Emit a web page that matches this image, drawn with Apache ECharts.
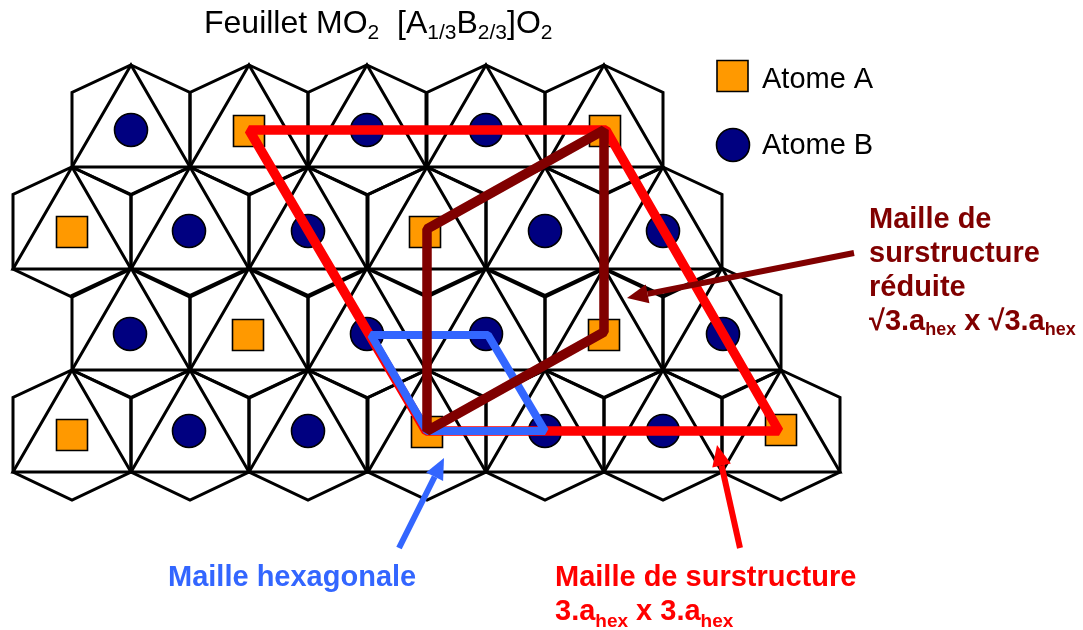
<!DOCTYPE html>
<html><head><meta charset="utf-8">
<style>html,body{margin:0;padding:0;background:#fff}#c{width:1083px;height:630px}</style>
<script src="https://cdn.jsdelivr.net/npm/echarts@6/dist/echarts.min.js"></script>
</head><body><div id="c"></div>
<script>
// Hexagon apex points: [x, y]
const row1 = [131,249,367,486,604].map(x=>[x,65]);
const row2 = [72,190,308,427,545,663].map(x=>[x,167]);
const row3 = [131,249,367,486,604,722].map(x=>[x,268]);
const row4 = [72,190,308,427,545,663,781].map(x=>[x,370]);
const hexagons = row1.concat(row2,row3,row4);
const atomsA = [[249,131],[605,131],[72,232],[425,232],[248,335],[604,335],[72,435],[427,432],[781,430]];
const atomsB = [[131,130],[367,130],[486,130],[189,231],[308,231],[545,231],[663,231],[130,334],[367,334],[486,334],[723,334],[189,431],[308,431],[545,431],[663,431]];
const legendA = [[732.5,76]];
const legendB = [[733,145]];
const cellRed = [[249,130],[606,130],[779,431],[426,431]];
const cellBlue = [[371,335],[488,335],[545,431],[427,431]];
const cellDark = [[427,431],[427,229],[604,130],[604,332]];
const arrowDark = [[854,253],[627,298]];
const arrowBlue = [[399,548],[444,458]];
const arrowRed = [[740,548],[717,445]];

const HW=59, S1=27.5, S2=102, S3=130;
function hexItem(p,api){
  const cx=api.value(0), t=api.value(1);
  const c=(x,y)=>api.coord([x,y]);
  const style={fill:null,stroke:'#000',lineWidth:3,lineJoin:'miter'};
  return {type:'group',children:[
    {type:'polygon',shape:{points:[c(cx,t),c(cx+HW,t+S1),c(cx+HW,t+S2),c(cx,t+S3),c(cx-HW,t+S2),c(cx-HW,t+S1)]},style},
    {type:'polygon',shape:{points:[c(cx,t),c(cx+HW,t+S2),c(cx-HW,t+S2)]},style}
  ]};
}
function cellSeries(points,color,width,z){
  return {type:'custom',coordinateSystem:'cartesian2d',silent:true,z,clip:false,
    data:[points.flat()],
    renderItem:(p,api)=>({type:'polygon',shape:{points:points.map(q=>api.coord(q))},
      style:{fill:null,stroke:color,lineWidth:width,lineJoin:'bevel'}})};
}
function arrowSeries(a,color,z){
  return {type:'custom',coordinateSystem:'cartesian2d',silent:true,z,clip:false,
    data:[a.flat()],
    renderItem:(p,api)=>{
      const s=api.coord(a[0]), e=api.coord(a[1]);
      const dx=e[0]-s[0],dy=e[1]-s[1],l=Math.hypot(dx,dy),ux=dx/l,uy=dy/l;
      const hl=21,hw=9.5;
      const b=[e[0]-ux*hl,e[1]-uy*hl];
      return {type:'group',children:[
        {type:'line',shape:{x1:s[0],y1:s[1],x2:b[0],y2:b[1]},style:{stroke:color,lineWidth:6}},
        {type:'polygon',shape:{points:[e,[b[0]-uy*hw,b[1]+ux*hw],[b[0]+uy*hw,b[1]-ux*hw]]},style:{fill:color}}
      ]};
    }};
}
function atom(data,symbol,size,color,z){
  return {type:'scatter',data,symbol,symbolSize:size,silent:true,z,
    itemStyle:{color,borderColor:'#000',borderWidth:1.6,opacity:1}};
}
const F='"Liberation Sans",Arial,sans-serif';
function txt(x,y,text,size,weight,color,lh,sub,subLh,firstLh){
  const n={fontFamily:F,fontSize:size,fontWeight:weight,fill:color,color,lineHeight:lh};
  const f={fontFamily:F,fontSize:size,fontWeight:weight,fill:color,color,lineHeight:firstLh||lh};
  const s={fontFamily:F,fontSize:sub,fontWeight:weight,fill:color,color,lineHeight:subLh||sub,verticalAlign:'bottom'};
  return {type:'text',left:x,top:y,z:100,silent:true,
    style:{text,font:weight+' '+size+'px '+F,fill:color,lineHeight:lh,rich:{n,s,f}}};
}
const chart=echarts.init(document.getElementById('c'),null,{renderer:'canvas'});
chart.setOption({
  animation:false,backgroundColor:'#fff',
  grid:{left:0,right:0,top:0,bottom:0},
  xAxis:{type:'value',min:0,max:1083,show:false},
  yAxis:{type:'value',min:0,max:630,inverse:true,show:false},
  graphic:[
    txt(204,4,'{n|Feuillet MO}{s|2}{n|  [A}{s|1/3}{n|B}{s|2/3}{n|]O}{s|2}',32,'normal','#000',40,21),
    txt(762,63,'Atome A',29,'normal','#000',33,19),
    txt(762,129,'Atome B',29,'normal','#000',33,19),
    txt(869,203,'{n|Maille de}\n{n|surstructure}\n{n|réduite}\n{n|√3.a}{s|hex}{n| x √3.a}{s|hex}',29,'bold','#800000',34,18),
    txt(168,561,'Maille hexagonale',29,'bold','#3366FF',34,19),
    txt(555,562,'{f|Maille de surstructure}\n{n|3.a}{s|hex}{n| x 3.a}{s|hex}',29,'bold','#FF0000',38,19,19,31)
  ],
  series:[
    {type:'custom',coordinateSystem:'cartesian2d',silent:true,z:2,clip:false,data:hexagons,renderItem:hexItem},
    atom(atomsA,'rect',31,'#FF9900',3),
    atom(atomsB,'circle',33,'#000080',3),
    atom(legendA,'rect',31,'#FF9900',3),
    atom(legendB,'circle',33,'#000080',3),
    cellSeries(cellRed,'#FF0000',9.5,5),
    cellSeries(cellBlue,'#3366FF',8,6),
    cellSeries(cellDark,'#800000',9.5,7),
    arrowSeries(arrowDark,'#800000',8),
    arrowSeries(arrowBlue,'#3366FF',8),
    arrowSeries(arrowRed,'#FF0000',8)
  ]
});
</script></body></html>
